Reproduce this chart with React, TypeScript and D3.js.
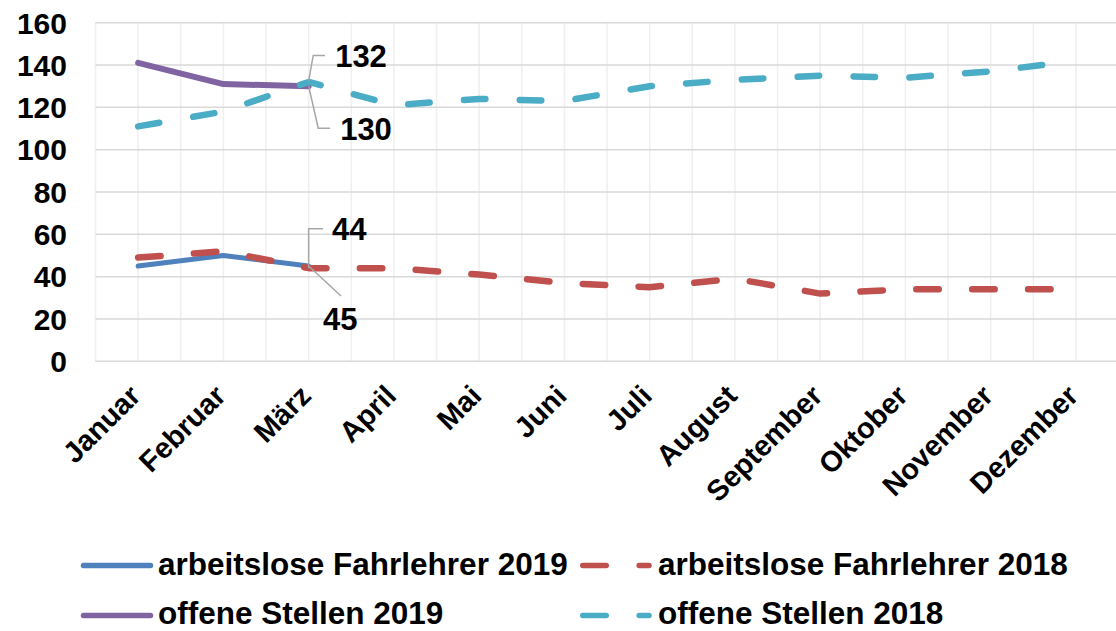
import React from "react";
import * as d3 from "d3";

const months = ["Januar","Februar","März","April","Mai","Juni","Juli","August","September","Oktober","November","Dezember"];
const arbeitslose2019 = [45, 50, 45];
const arbeitslose2018 = [49, 52, 44, 44, 41, 37, 35, 39, 32, 34, 34, 34];
const offene2019 = [141, 131, 130];
const offene2018 = [111, 118, 132, 121, 124, 123, 130, 133, 135, 134, 137, 142];
const yTicks = [0, 20, 40, 60, 80, 100, 120, 140, 160];
const seriesNames = ["arbeitslose Fahrlehrer 2019", "arbeitslose Fahrlehrer 2018", "offene Stellen 2019", "offene Stellen 2018"];

const W = 1116, H = 631;
const FONT = "'Liberation Sans', Arial, sans-serif";

export default function App() {
  const x = d3.scalePoint<string>().domain(months).range([95.5, 1118.6]).padding(0.5);
  const y = d3.scaleLinear().domain([0, 160]).range([361.3, 22.7]);
  const half = x.step() / 2;
  const x0 = 95.5;
  const line = d3.line<number>().x((_, i) => x(months[i])!).y(d => y(d));

  const series = [
    { name: seriesNames[0], data: arbeitslose2019, color: "#4F81BD", w: 5, dash: null },
    { name: seriesNames[1], data: arbeitslose2018, color: "#C0504D", w: 6.5, dash: "22.5 33.4" },
    { name: seriesNames[2], data: offene2019, color: "#8064A2", w: 6, dash: null },
    { name: seriesNames[3], data: offene2018, color: "#4BACC6", w: 6.5, dash: "21.5 34.4" },
  ];

  const vGrid = d3.range(0, 25).map(i => x0 + i * half);

  // data labels at März (index 2): leader offsets and text centre offsets relative to the point
  const labels = [
    { value: offene2018[2], py: y(offene2018[2]), leader: [[0, -1], [4.6, -26.5], [16.3, -26.5]], tx: 26.5, ty: -26 },
    { value: offene2019[2], py: y(offene2019[2]), leader: [[0, 0], [9.6, 42], [21.3, 42]], tx: 31.5, ty: 42.8 },
    { value: arbeitslose2018[2], py: y(arbeitslose2018[2]), leader: [[0, 0], [0, -39.5], [14.4, -39.5]], tx: 23.4, ty: -39.2 },
    { value: arbeitslose2019[2], py: y(arbeitslose2019[2]), leader: [[0, 0], [32.4, 30]], tx: 14.3, ty: 52.9 },
  ];
  const px = x("März")!;

  const legend = [
    { s: series[0], lx: 83.5, tx: 158, ly: 565.5, ty: 574.5 },
    { s: series[1], lx: 582.75, tx: 658, ly: 565.5, ty: 574.5 },
    { s: series[2], lx: 83.5, tx: 158, ly: 615.5, ty: 624.3 },
    { s: series[3], lx: 582.75, tx: 658, ly: 615.5, ty: 624.3 },
  ];

  return (
    <div style={{ position: "fixed", left: 0, top: 0 }}>
      <svg width={W} height={H} style={{ display: "block", background: "#fff" }} fontFamily={FONT} fontWeight="bold">
        {vGrid.map((gx, i) => (
          <line key={"v" + i} x1={gx} x2={gx} y1={y(160)} y2={y(0)} stroke="#efefef" strokeWidth={1.5} />
        ))}
        {yTicks.map(t => (
          <line key={"h" + t} x1={x0} x2={W} y1={y(t)} y2={y(t)} stroke="#d9d9d9" strokeWidth={1.5} />
        ))}
        {yTicks.map(t => (
          <text key={"yt" + t} x={67} y={y(t)} dy="0.36em" textAnchor="end" fontSize={30} fill="#000">{t}</text>
        ))}
        {months.map(m => (
          <text key={m} transform={`translate(${x(m)! + 4},397.5) rotate(-45)`} textAnchor="end" fontSize={29} fill="#000">{m}</text>
        ))}
        {series.map(s => (
          <path key={s.name} d={line(s.data)!} fill="none" stroke={s.color} strokeWidth={s.w}
            strokeLinecap="round" strokeLinejoin="round" strokeDasharray={s.dash ?? undefined} />
        ))}
        {labels.map((l, i) => {
          const d = "M" + l.leader.map(q => `${px + q[0]},${l.py + q[1]}`).join("L");
          return (
            <g key={"lab" + i}>
              <path d={d} fill="none" stroke="#a6a6a6" strokeWidth={1.5} />
              <text x={px + l.tx} y={l.py + l.ty} dy="0.36em" fontSize={31} fill="#000">{l.value}</text>
            </g>
          );
        })}
        {legend.map(l => (
          <g key={"lg" + l.s.name}>
            <line x1={l.lx} x2={l.s.dash ? 649 : 150.5} y1={l.ly} y2={l.ly} stroke={l.s.color} strokeWidth={5.5}
              strokeLinecap="round" strokeDasharray={l.s.dash ? "23.5 32.9" : undefined} />
            <text x={l.tx} y={l.ty} fontSize={31.5} fill="#000">{l.s.name}</text>
          </g>
        ))}
      </svg>
    </div>
  );
}
